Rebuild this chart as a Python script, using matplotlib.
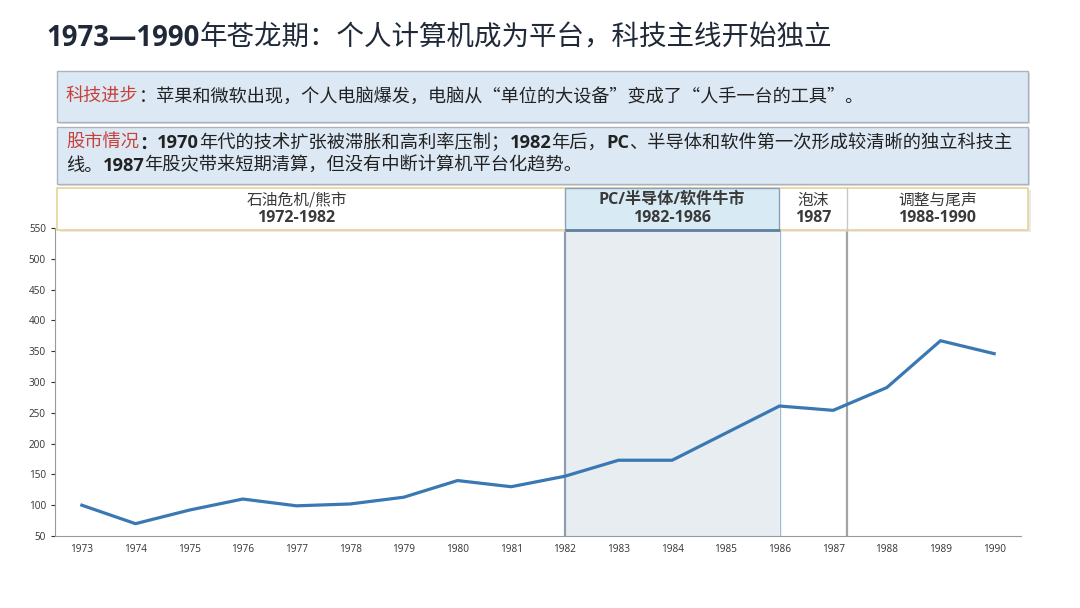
import matplotlib
matplotlib.use('Agg')
import matplotlib.pyplot as plt
import matplotlib.patches as mpatches
from matplotlib.transforms import blended_transform_factory

CJK = ['Noto Sans CJK SC', 'DejaVu Sans']
LAT = ['Open Sans', 'Noto Sans CJK SC', 'DejaVu Sans']
plt.rcParams['font.family'] = CJK

# ---- data ----
years = list(range(1973, 1991))
values = [100, 70, 92, 110, 99, 102, 113, 140, 130, 147,
          173, 173, 217, 261, 254, 291, 367, 346]

period_names = ['石油危机/熊市', 'PC/半导体/软件牛市', '泡沫', '调整与尾声']
period_labels = ['1972-1982', '1982-1986', '1987', '1988-1990']
period_starts = [1972, 1982, 1986, 1987.25]
period_ends = [1982, 1986, 1987.25, 1990.63]
highlight = (1982, 1986)
y_ticks = list(range(50, 551, 50))

title_runs = [('1973—1990', '#1f2937', 'bold'),
              ('年苍龙期：个人计算机成为平台，科技主线开始独立', '#1f2937', 'normal')]
tech_runs = [('科技进步', '#c7413a', 'normal'),
             ('：苹果和微软出现，个人电脑爆发，电脑从“单位的大设备”变成了“人手一台的工具”。', '#222222', 'normal')]
market_line1 = [('股市情况', '#c7413a', 'normal'), ('：', '#222222', 'bold'),
                ('1970', '#222222', 'bold'), ('年代的技术扩张被滞胀和高利率压制；', '#222222', 'normal'),
                ('1982', '#222222', 'bold'), ('年后，', '#222222', 'normal'),
                ('PC', '#222222', 'bold'), ('、半导体和软件第一次形成较清晰的独立科技主', '#222222', 'normal')]
market_line2 = [('线。', '#222222', 'normal'), ('1987', '#222222', 'bold'),
                ('年股灾带来短期清算，但没有中断计算机平台化趋势。', '#222222', 'normal')]

W, H = 1080, 608
fig = plt.figure(figsize=(W / 100, H / 100), dpi=100)
fig.patch.set_facecolor('white')
renderer = fig.canvas.get_renderer()


def px(x, y):
    return x / W, 1 - y / H


def draw_runs(x, y, runs, size):
    fx, fy = px(x, y)
    for s, color, weight in runs:
        fam = LAT if s.replace('—', '').isascii() else CJK
        t = fig.text(fx, fy, s, fontsize=size, color=color, fontweight=weight,
                     ha='left', va='center', family=fam)
        fx += t.get_window_extent(renderer).width / W


def box(x0, y0, x1, y1, fc, ec):
    fig.patches.append(mpatches.Rectangle(px(x0 + 2, y1 + 2), (x1 - x0) / W, (y1 - y0) / H,
                                          transform=fig.transFigure, facecolor='#c8c8c8',
                                          edgecolor='none', alpha=0.6, zorder=0))
    fig.patches.append(mpatches.Rectangle(px(x0, y1), (x1 - x0) / W, (y1 - y0) / H,
                                          transform=fig.transFigure, facecolor=fc,
                                          edgecolor=ec, linewidth=1, zorder=1))


# title
draw_runs(46, 38, title_runs, 19.8)

# text boxes
box(57, 71, 1028, 122, '#dce9f5', '#a9b4be')
draw_runs(66, 97, tech_runs, 13.1)
box(57, 127, 1028, 184, '#dce9f5', '#a9b4be')
draw_runs(66, 143, market_line1, 13.15)
draw_runs(66, 166, market_line2, 13.15)

# chart
ax = fig.add_axes([55 / W, 1 - 536 / H, 966 / W, 308 / H])
ax.plot(years, values, color='#3a78b4', linewidth=2.3, zorder=4)
ax.set_xlim(1972.5, 1990.5)
ax.set_ylim(50, 550)
ax.set_xticks(years)
ax.set_yticks(y_ticks)
ax.tick_params(labelsize=7.2, colors='#333333', length=3, width=0.8)
ax.tick_params(axis='x', length=0, pad=6)
for lab in ax.get_xticklabels() + ax.get_yticklabels():
    lab.set_family(LAT)
for side in ['top', 'right']:
    ax.spines[side].set_visible(False)
for side in ['left', 'bottom']:
    ax.spines[side].set_color('#9a9a9a')

ax.axvspan(highlight[0], highlight[1], facecolor='#e8edf1', edgecolor='none', zorder=1)
ax.axvline(highlight[0], color='#8d9cae', linewidth=1.6, zorder=2)
ax.axvline(highlight[1], color='#9dbbdb', linewidth=1.0, zorder=2)
ax.axvline(period_ends[2], color='#a3a3a3', linewidth=1.6, zorder=2)

# period header row
tr = blended_transform_factory(ax.transData, ax.transAxes)
hb, ht = (536 - 230) / 308, (536 - 188) / 308
x_left = 1972.54
ax.add_patch(mpatches.Rectangle((x_left + 0.05, hb - 0.008), period_ends[-1] - x_left, ht - hb,
                                transform=tr, facecolor='#dcdcdc', edgecolor='none',
                                alpha=0.6, clip_on=False, zorder=5))
ax.add_patch(mpatches.Rectangle((x_left, hb), period_ends[-1] - x_left, ht - hb,
                                transform=tr, facecolor='white', edgecolor='#e6d398',
                                linewidth=1.2, clip_on=False, zorder=6))
ax.add_patch(mpatches.Rectangle((highlight[0], hb), highlight[1] - highlight[0], ht - hb,
                                transform=tr, facecolor='#d8ebf4', edgecolor='#8aa1b6',
                                linewidth=1.0, clip_on=False, zorder=7))
ax.plot([highlight[0], highlight[1]], [hb, hb], transform=tr, color='#5f7f9f',
        linewidth=2, clip_on=False, zorder=8, solid_capstyle='butt')
ax.plot([period_ends[2], period_ends[2]], [hb, ht], transform=tr, color='#c8c8c8',
        linewidth=1, clip_on=False, zorder=8)

for i, (name, lab, s, e) in enumerate(zip(period_names, period_labels, period_starts, period_ends)):
    cx = (s + e) / 2
    bold = 'bold' if i == 1 else 'normal'
    ax.text(cx, (536 - 200) / 308, name, transform=tr, ha='center', va='center',
            fontsize=11.6 if i == 1 else 11.3, fontweight=bold, color='#3a3a3a', zorder=9,
            family=LAT if i == 1 else CJK)
    ax.text(cx, (536 - 218) / 308, lab, transform=tr, ha='center', va='center',
            fontsize=11.5, fontweight='bold', color='#3a3a3a', zorder=9, family=LAT)

fig.savefig('out.png', dpi=100, facecolor='white')
